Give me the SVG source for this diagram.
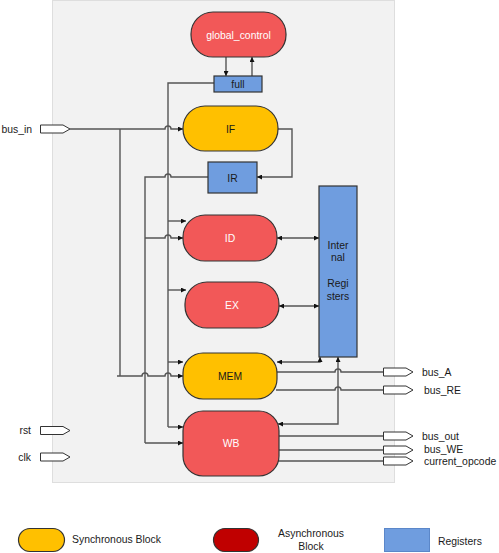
<svg xmlns="http://www.w3.org/2000/svg" width="499" height="553" viewBox="0 0 499 553">
<defs>
<marker id="ah" viewBox="0 0 10 10" refX="10" refY="5" markerWidth="5" markerHeight="5" orient="auto-start-reverse" markerUnits="userSpaceOnUse">
<path d="M0,0 L10,5 L0,10 z" fill="#111"/>
</marker>
<style>
text{font-family:"Liberation Sans",Arial,sans-serif;font-size:10.4px;}
.red{fill:#f25858;stroke:#333;stroke-width:1.2;}
.yel{fill:#ffc000;stroke:#333;stroke-width:1.2;}
.blu{fill:#6f9ddf;stroke:#333;stroke-width:1.2;}
.wt{fill:#fff;text-anchor:middle;}
.dk{fill:#1a1a1a;text-anchor:middle;}
.lbl{fill:#1a1a1a;}
.port{fill:#fff;stroke:#333;stroke-width:1;}
.ln{fill:none;stroke:#555;stroke-width:1.4;}
.arr{marker-end:url(#ah);}
.bi{marker-start:url(#ah);marker-end:url(#ah);}
</style>
</defs>
<rect x="52.5" y="0.5" width="342" height="482" fill="#f2f2f2" stroke="#dedede" stroke-width="1"/>

<g id="connectors">
<path class="ln arr" d="M226,57 V76"/>
<path class="ln arr" d="M252,76 V57"/>
<path class="ln" d="M214,83 H168 V427"/>
<path class="ln arr" d="M168,221 H186"/>
<path class="ln arr" d="M168,290 H186"/>
<path class="ln arr" d="M168,362 H183"/>
<path class="ln arr" d="M168,427 H183"/>
<path class="ln arr" d="M70,129 H165 a3,3 0 0 1 6,0 H183"/>
<path class="ln" d="M120,129 V376"/>
<path class="ln arr" d="M117,376 H142 a3,3 0 0 1 6,0 H165 a3,3 0 0 1 6,0 H183"/>
<path class="ln arr" d="M278,129 H292 V177 H257"/>
<path class="ln" d="M208,177 H171 a3,3 0 0 0 -6,0 H145 V443"/>
<path class="ln arr" d="M145,238 H165 a3,3 0 0 1 6,0 H183"/>
<path class="ln arr" d="M145,443 H183"/>
<path class="ln bi" d="M277,238 H319"/>
<path class="ln bi" d="M279,306 H319"/>
<path class="ln bi" d="M277,362 H320 V357"/>
<path class="ln bi" d="M278,424 H338 V357"/>
<path class="ln" d="M277,372 H335 a3,3 0 0 1 6,0 H383"/>
<path class="ln" d="M276,390 H335 a3,3 0 0 1 6,0 H383"/>
<path class="ln" d="M279,436 H383"/>
<path class="ln" d="M279,450 H383"/>
<path class="ln" d="M278,461 H383"/>
</g>

<g id="global_control">
<rect class="red" x="191" y="12" width="95" height="45" rx="22" ry="22"/>
<text class="wt" x="238.5" y="38.5">global_control</text>
</g>
<g id="full">
<rect class="blu" x="214" y="76" width="48" height="16"/>
<text class="dk" x="238" y="88">full</text>
</g>
<g id="IF">
<rect class="yel" x="183" y="106" width="95" height="45" rx="22" ry="22"/>
<text class="dk" x="230.5" y="132.5">IF</text>
</g>
<g id="IR">
<rect class="blu" x="208" y="162" width="49" height="31"/>
<text class="dk" x="232.5" y="181.5">IR</text>
</g>
<g id="ID">
<rect class="red" x="183" y="215" width="94" height="46" rx="22" ry="22"/>
<text class="wt" x="230" y="242">ID</text>
</g>
<g id="EX">
<rect class="red" x="185" y="282" width="94" height="46" rx="22" ry="22"/>
<text class="wt" x="232" y="309">EX</text>
</g>
<g id="internal_registers">
<rect class="blu" x="319" y="186" width="38" height="171"/>
<text class="dk" x="338" y="249">Inter</text>
<text class="dk" x="338" y="261">nal</text>
<text class="dk" x="338" y="287">Regi</text>
<text class="dk" x="338" y="300">sters</text>
</g>
<g id="MEM">
<rect class="yel" x="183" y="353" width="94" height="46" rx="20" ry="20"/>
<text class="dk" x="230" y="380">MEM</text>
</g>
<g id="WB">
<rect class="red" x="183" y="411" width="96" height="65" rx="20" ry="20"/>
<text class="wt" x="231" y="447">WB</text>
</g>

<g id="port_bus_in">
<polygon class="port" points="40.5,125 63,125 70,129 63,133 40.5,133"/>
<text class="lbl" x="32" y="132.5" text-anchor="end">bus_in</text>
</g>
<g id="port_rst">
<polygon class="port" points="40.5,426.5 63,426.5 70,430.5 63,434.5 40.5,434.5"/>
<text class="lbl" x="31" y="434" text-anchor="end">rst</text>
</g>
<g id="port_clk">
<polygon class="port" points="40.5,453 63,453 70,457 63,461 40.5,461"/>
<text class="lbl" x="31" y="460.5" text-anchor="end">clk</text>
</g>
<g id="port_bus_A">
<polygon class="port" points="383.5,368 406,368 413,372 406,376 383.5,376"/>
<text class="lbl" x="422" y="375.5">bus_A</text>
</g>
<g id="port_bus_RE">
<polygon class="port" points="383.5,386 406,386 413,390 406,394 383.5,394"/>
<text class="lbl" x="424" y="393.5">bus_RE</text>
</g>
<g id="port_bus_out">
<polygon class="port" points="383.5,432 406,432 413,436 406,440 383.5,440"/>
<text class="lbl" x="422" y="439.5">bus_out</text>
</g>
<g id="port_bus_WE">
<polygon class="port" points="383.5,446 406,446 413,450 406,454 383.5,454"/>
<text class="lbl" x="424" y="453">bus_WE</text>
</g>
<g id="port_current_opcode">
<polygon class="port" points="383.5,457 406,457 413,461 406,465 383.5,465"/>
<text class="lbl" x="424" y="464.5">current_opcode</text>
</g>

<g id="legend_sync">
<rect class="yel" x="18.5" y="528.5" width="46" height="23" rx="11.5" ry="11.5"/>
<text class="lbl" x="72" y="543">Synchronous Block</text>
</g>
<g id="legend_async">
<rect x="213.5" y="528.5" width="45" height="23" rx="11.5" ry="11.5" fill="#c00000" stroke="#333" stroke-width="1.2"/>
<text class="dk" x="311" y="537">Asynchronous</text>
<text class="dk" x="311" y="550">Block</text>
</g>
<g id="legend_reg">
<rect x="384.5" y="528.5" width="45" height="23" fill="#6f9ddf" stroke="#5b87c9" stroke-width="1"/>
<text class="lbl" x="438" y="545">Registers</text>
</g>
</svg>
